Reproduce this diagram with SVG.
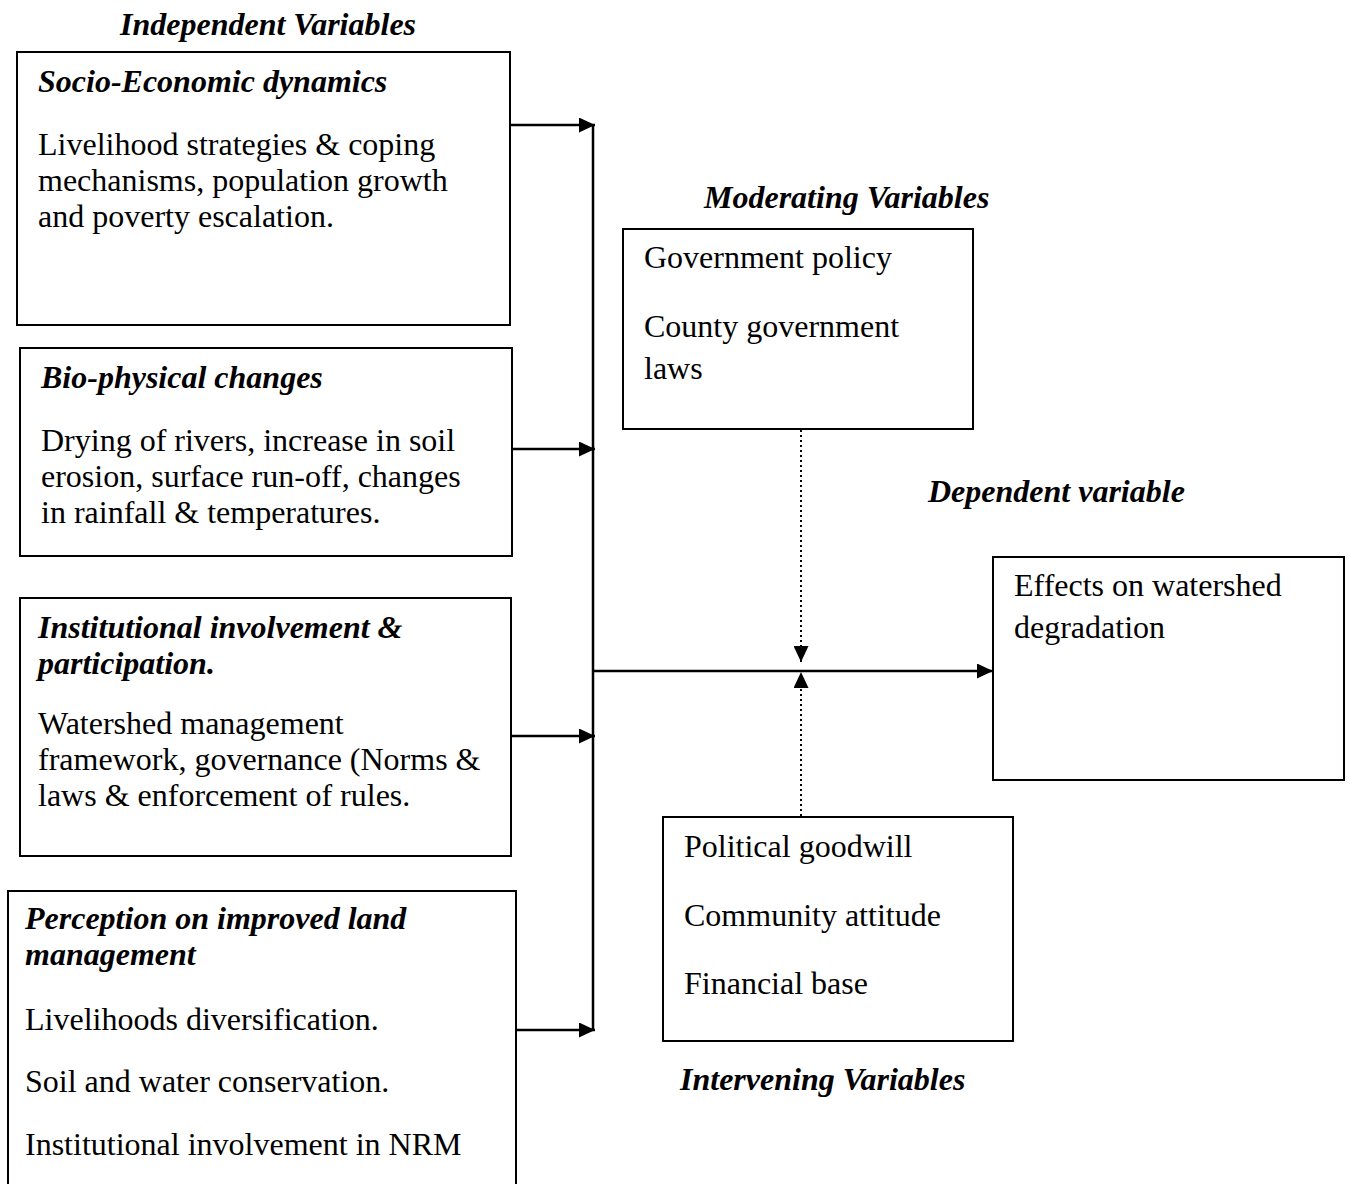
<svg xmlns="http://www.w3.org/2000/svg" width="1350" height="1184" viewBox="0 0 1350 1184">
<style>
.box{fill:#fff;stroke:#000;stroke-width:2}
.t{font-family:"Liberation Serif","Times New Roman",serif;font-size:32px;fill:#000}
.h{font-family:"Liberation Serif","Times New Roman",serif;font-size:32px;font-weight:bold;font-style:italic;fill:#000}
.ln{stroke:#000;stroke-width:2.5;fill:none}
.dot{stroke:#000;stroke-width:2;fill:none;stroke-dasharray:2 3}
</style>
<defs>
<marker id="ah" viewBox="0 0 16 15" refX="16" refY="7.5" markerWidth="16" markerHeight="15" markerUnits="userSpaceOnUse" orient="auto">
<path d="M0,0 L16,7.5 L0,15 Z" fill="#000"/>
</marker>
</defs>
<rect width="1350" height="1184" fill="#fff"/>
<text class="h" x="120" y="35">Independent Variables</text>
<text class="h" x="704" y="208">Moderating Variables</text>
<text class="h" x="928" y="502">Dependent variable</text>
<text class="h" x="680" y="1090">Intervening Variables</text>

<g id="socio">
<rect class="box" x="17" y="52" width="493" height="273"/>
<text class="h" x="38" y="92">Socio-Economic dynamics</text>
<text class="t" x="38" y="155">Livelihood strategies &amp; coping</text>
<text class="t" x="38" y="191">mechanisms, population growth</text>
<text class="t" x="38" y="227">and poverty escalation.</text>
</g>
<g id="bio">
<rect class="box" x="20" y="348" width="492" height="208"/>
<text class="h" x="41" y="388">Bio-physical changes</text>
<text class="t" x="41" y="451">Drying of rivers, increase in soil</text>
<text class="t" x="41" y="487">erosion, surface run-off, changes</text>
<text class="t" x="41" y="523">in rainfall &amp; temperatures.</text>
</g>
<g id="inst">
<rect class="box" x="20" y="598" width="491" height="258"/>
<text class="h" x="38" y="638">Institutional involvement &amp;</text>
<text class="h" x="38" y="674">participation.</text>
<text class="t" x="38" y="734">Watershed management</text>
<text class="t" x="38" y="770">framework, governance (Norms &amp;</text>
<text class="t" x="38" y="806">laws &amp; enforcement of rules.</text>
</g>
<g id="perc">
<rect class="box" x="8" y="891" width="508" height="320"/>
<text class="h" x="25" y="929">Perception on improved land</text>
<text class="h" x="25" y="965">management</text>
<text class="t" x="25" y="1030">Livelihoods diversification.</text>
<text class="t" x="25" y="1092">Soil and water conservation.</text>
<text class="t" x="25" y="1155">Institutional involvement in NRM</text>
</g>
<g id="moderating">
<rect class="box" x="623" y="229" width="350" height="200"/>
<text class="t" x="644" y="268">Government policy</text>
<text class="t" x="644" y="337">County government</text>
<text class="t" x="644" y="379">laws</text>
</g>
<g id="dependent">
<rect class="box" x="993" y="557" width="351" height="223"/>
<text class="t" x="1014" y="596">Effects on watershed</text>
<text class="t" x="1014" y="638">degradation</text>
</g>
<g id="intervening">
<rect class="box" x="663" y="817" width="350" height="224"/>
<text class="t" x="684" y="857">Political goodwill</text>
<text class="t" x="684" y="926">Community attitude</text>
<text class="t" x="684" y="994">Financial base</text>
</g>

<g id="connectors">
<line class="ln" x1="593" y1="125" x2="593" y2="1031"/>
<line class="ln" x1="510" y1="125" x2="595" y2="125" marker-end="url(#ah)"/>
<line class="ln" x1="512" y1="449" x2="595" y2="449" marker-end="url(#ah)"/>
<line class="ln" x1="511" y1="736" x2="595" y2="736" marker-end="url(#ah)"/>
<line class="ln" x1="516" y1="1030" x2="595" y2="1030" marker-end="url(#ah)"/>
<line class="ln" x1="593" y1="671" x2="993" y2="671" marker-end="url(#ah)"/>
<line class="dot" x1="801" y1="430" x2="801" y2="662" marker-end="url(#ah)"/>
<line class="dot" x1="801" y1="816" x2="801" y2="672" marker-end="url(#ah)"/>
</g>
</svg>
